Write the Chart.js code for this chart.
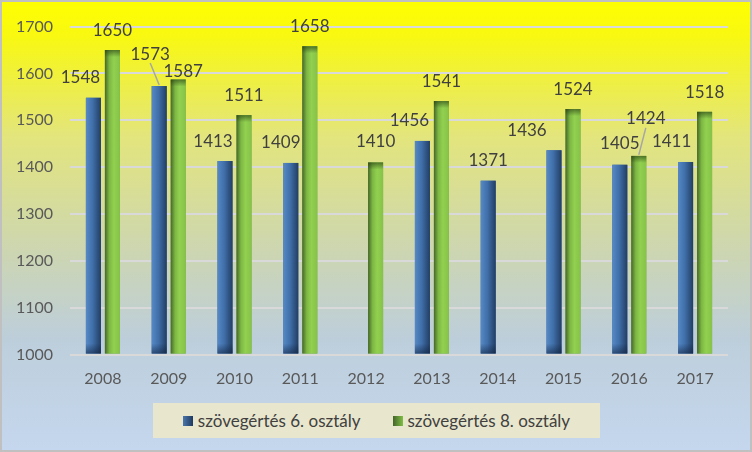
<!DOCTYPE html>
<html lang="hu">
<head>
<meta charset="utf-8">
<title>Szövegértés</title>
<script src="https://cdn.jsdelivr.net/npm/chart.js@4.4.1/dist/chart.umd.min.js"></script>
<style>
    body { margin: 0; background: #fff; }
    #wrap { position: relative; width: 752px; height: 452px; }
    #legend {
        position: absolute; left: 153px; top: 403px; width: 447px; height: 35px;
        background: #e8e6cc; display: flex; align-items: center; justify-content: center;
        gap: 32px; font: 17px Lato, sans-serif; color: #404040;
    }
    #legend .item { display: flex; align-items: center; white-space: nowrap; }
    #legend i { display: inline-block; width: 10px; height: 10px; margin-right: 5px; }
</style>
</head>
<body>
<div id="wrap">
    <canvas id="chart" width="752" height="452"></canvas>
    <div id="legend"></div>
</div>
<script>
const years = ['2008', '2009', '2010', '2011', '2012', '2013', '2014', '2015', '2016', '2017'];
const grade6 = [1548, 1573, 1413, 1409, null, 1456, 1371, 1436, 1405, 1411];
const grade8 = [1650, 1587, 1511, 1658, 1410, 1541, null, 1524, 1424, 1518];
const seriesNames = ['szövegértés 6. osztály', 'szövegértés 8. osztály'];
const yTicks = [1000, 1100, 1200, 1300, 1400, 1500, 1600, 1700];

// where Excel had put the value labels, relative to the bar top (dx, dy, leader line)
const labelShift = [
    [[-13, -20], [-9, -32, true], [-12, -20], [-10, -20], null, [-13, -20], [0, -20], [-27, -20], [0, -21], [-14, -20]],
    [[0, -20], [5, -8], [0, -20], [0, -20], [0, -21], [0, -20], null, [0, -20], [7, -37, true], [0, -19]]
];

const barStops = [
    [[0, '#5689c6'], [0.45, '#406fa9'], [1, '#223e64']],
    [[0, '#47672a'], [0.3, '#7db843'], [0.6, '#92d050'], [1, '#85c248']]
];
const legendFills = [
    'linear-gradient(90deg, #4a76ad, #1f3a5f)',
    'linear-gradient(90deg, #44652a, #7fbf44)'
];
const bgStops = [[0, '#ffff00'], [0.08, '#f8f812'], [0.3, '#e3e57c'], [0.55, '#cdd6b0'], [0.75, '#bdcedb'], [1, '#c5d7ee']];

const font = 'Lato, sans-serif';

function paintBar(ctx, bar, di) {
    const { x, y, base, width } = bar.getProps(['x', 'y', 'base', 'width'], true);
    const left = x - width / 2;
    const h = base - y;

    const g = ctx.createLinearGradient(left, 0, left + width, 0);
    barStops[di].forEach(s => g.addColorStop(s[0], s[1]));
    ctx.fillStyle = g;
    ctx.fillRect(left, y, width, h);

    // a bit of bevel: blue darkens at the foot, green at the top
    let v;
    if (di === 0) {
        v = ctx.createLinearGradient(0, base - 10, 0, base);
        v.addColorStop(0, 'rgba(15,30,55,0)');
        v.addColorStop(1, 'rgba(15,30,55,0.55)');
        ctx.fillStyle = v;
        ctx.fillRect(left, base - Math.min(10, h), width, Math.min(10, h));
    } else {
        v = ctx.createLinearGradient(0, y, 0, y + 7);
        v.addColorStop(0, 'rgba(35,55,15,0.6)');
        v.addColorStop(1, 'rgba(35,55,15,0)');
        ctx.fillStyle = v;
        ctx.fillRect(left, y, width, Math.min(7, h));
    }
}

const paintPlugin = {
    id: 'paint',
    beforeDraw(chart) {
        const { ctx, width, height } = chart;
        const g = ctx.createLinearGradient(0, 0, 0, height);
        bgStops.forEach(s => g.addColorStop(s[0], s[1]));
        ctx.save();
        ctx.fillStyle = g;
        ctx.fillRect(0, 0, width, height);
        ctx.strokeStyle = '#c0c0c0';
        ctx.lineWidth = 2;
        ctx.strokeRect(1, 1, width - 2, height - 2);
        ctx.restore();
    },
    afterDatasetsDraw(chart) {
        const ctx = chart.ctx;
        const area = chart.chartArea;
        ctx.save();
        ctx.beginPath();
        ctx.rect(area.left, 0, area.right - area.left, area.bottom);
        ctx.clip();
        chart.data.datasets.forEach((ds, di) => {
            const meta = chart.getDatasetMeta(di);
            meta.data.forEach((bar, i) => {
                if (ds.data[i] == null) return;
                paintBar(ctx, bar, di);
            });
        });
        ctx.restore();

        ctx.save();
        ctx.font = '17px ' + font;
        ctx.fillStyle = '#404040';
        ctx.textAlign = 'center';
        ctx.textBaseline = 'middle';
        ctx.strokeStyle = '#a6a6a6';
        ctx.lineWidth = 1.5;
        chart.data.datasets.forEach((ds, di) => {
            const meta = chart.getDatasetMeta(di);
            meta.data.forEach((bar, i) => {
                const shift = labelShift[di][i];
                if (ds.data[i] == null || !shift) return;
                const { x, y } = bar.getProps(['x', 'y'], true);
                const lx = x + shift[0];
                const ly = y + shift[1];
                if (shift[2]) {
                    ctx.beginPath();
                    ctx.moveTo(lx, ly + 9);
                    ctx.lineTo(x, y - 1);
                    ctx.stroke();
                }
                ctx.fillText(String(ds.data[i]), lx, ly);
            });
        });
        ctx.restore();
    }
};

const chart = new Chart(document.getElementById('chart'), {
    type: 'bar',
    data: {
        labels: years,
        datasets: [
            { label: seriesNames[0], data: grade6, base: yTicks[0], backgroundColor: '#3a6498' },
            { label: seriesNames[1], data: grade8, base: yTicks[0], backgroundColor: '#6fa83a' }
        ]
    },
    options: {
        responsive: false,
        animation: false,
        devicePixelRatio: 1,
        categoryPercentage: 0.5775,
        barPercentage: 0.79,
        layout: { padding: { top: 24.5, right: 24, bottom: 57.5, left: 0 } },
        plugins: {
            legend: { display: false },
            tooltip: { enabled: false }
        },
        scales: {
            x: {
                grid: { display: false, drawTicks: false },
                border: { display: false },
                ticks: { color: '#595959', font: { family: font, size: 16 }, padding: 15 },
                afterFit(scale) { scale.height = 40; }
            },
            y: {
                min: yTicks[0],
                max: yTicks[yTicks.length - 1],
                afterBuildTicks(scale) { scale.ticks = yTicks.map(v => ({ value: v })); },
                grid: { color: '#d9d9d9', lineWidth: 2, drawTicks: false },
                border: { display: false },
                ticks: {
                    color: '#595959', font: { family: font, size: 16 }, padding: 17,
                    callback: v => String(v)
                },
                afterFit(scale) { scale.width = 70; }
            }
        }
    },
    plugins: [paintPlugin]
});

document.getElementById('legend').innerHTML = chart.data.datasets.map((ds, i) =>
    `<span class="item"><i style="background:${legendFills[i]}"></i>${ds.label}</span>`
).join('');
</script>
</body>
</html>
